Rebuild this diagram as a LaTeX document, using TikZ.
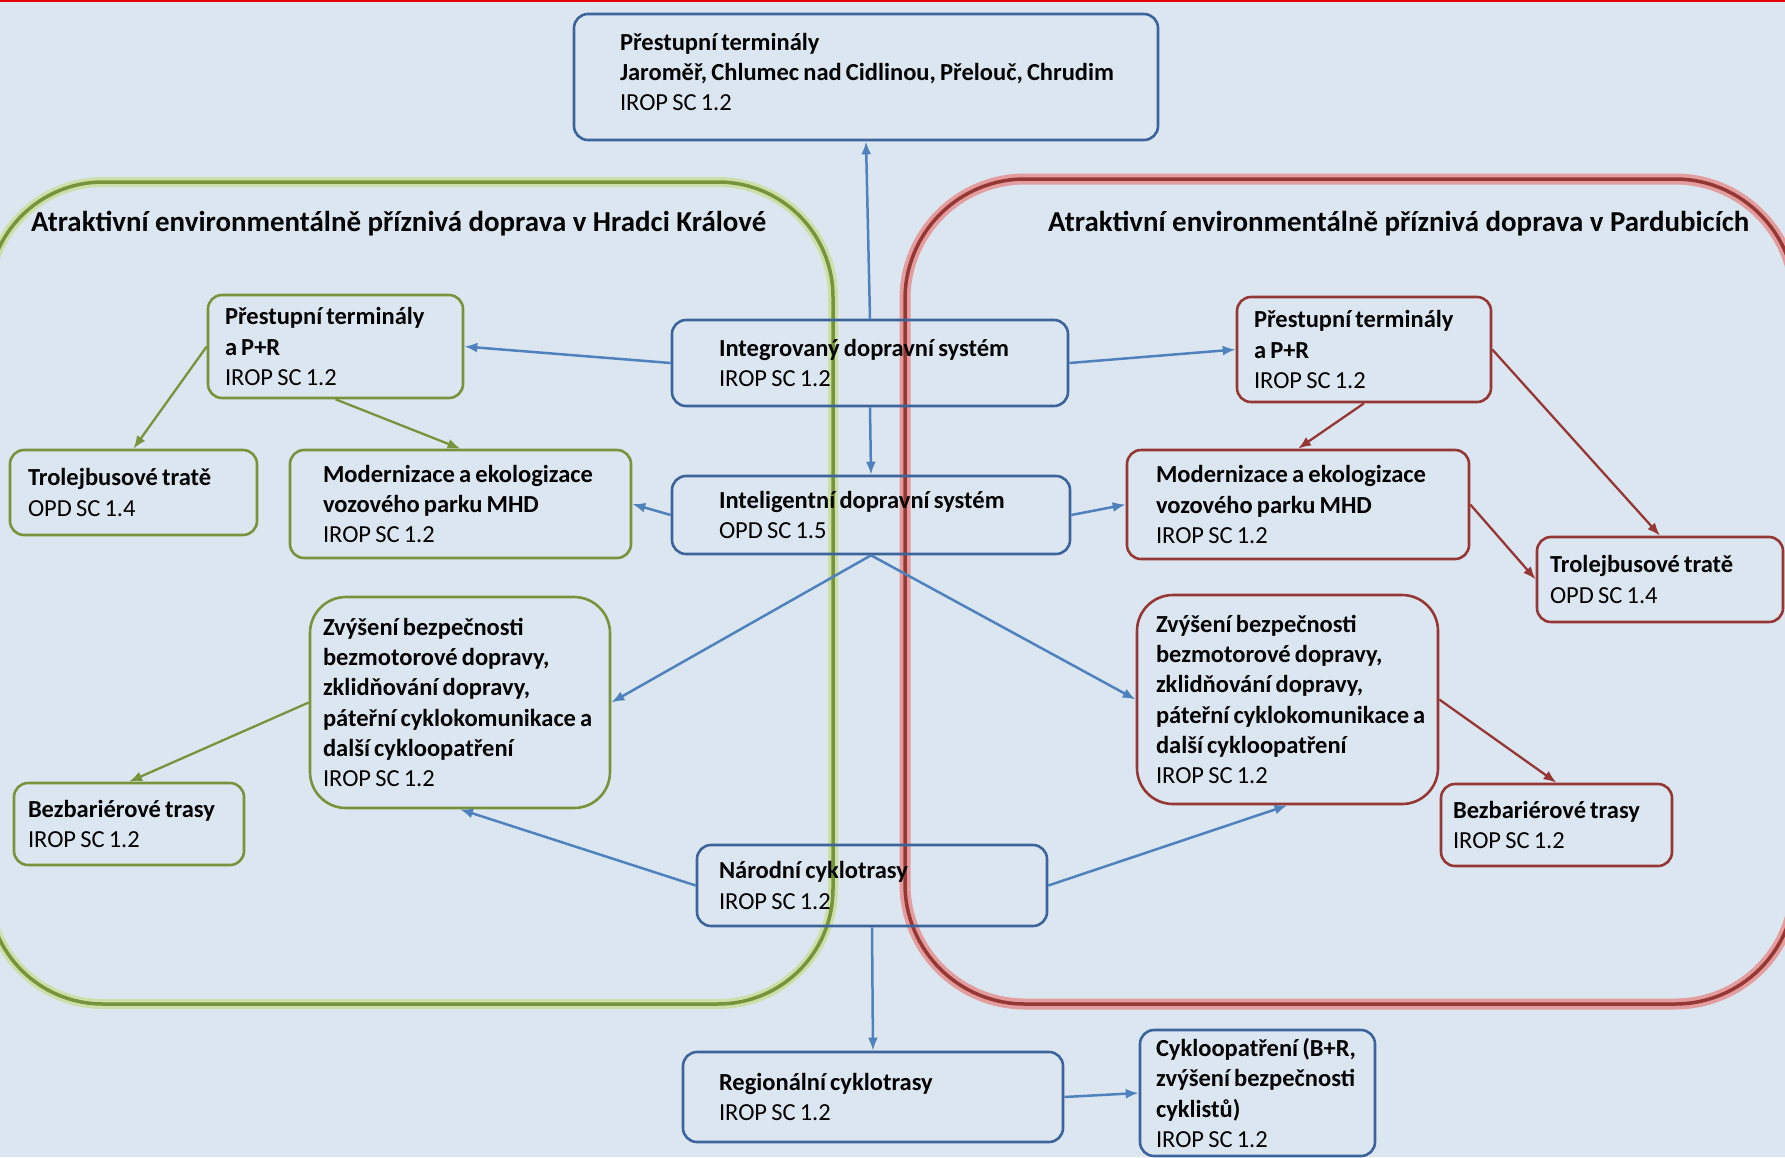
\documentclass[tikz,border=0pt]{standalone}
\usepackage{fontspec}
\setmainfont{Carlito}
\usetikzlibrary{arrows.meta}
\definecolor{bg}{RGB}{220,230,241}
\definecolor{boxblue}{RGB}{60,100,155}
\definecolor{arrblue}{RGB}{79,129,189}
\definecolor{grn}{RGB}{119,147,60}
\definecolor{grnglow}{RGB}{200,222,150}
\definecolor{rd}{RGB}{149,55,53}
\definecolor{rdglow}{RGB}{228,150,150}
\definecolor{topred}{RGB}{225,0,0}
\newcommand\myb[1]{\mbox{\bfseries\spaceskip=0.17em\relax #1}}
\newcommand\myr[1]{\mbox{\spaceskip=0.17em\relax #1}}
\tikzset{
  bx/.style={draw, line width=2.6pt, rounded corners=14pt, align=left, inner ysep=2pt,
    font=\fontsize{24.5pt}{30.3pt}\selectfont, text=black},
  bluebox/.style={bx, draw=boxblue},
  greenbox/.style={bx, draw=grn},
  redbox/.style={bx, draw=rd},
  barr/.style={draw=arrblue, line width=2.5pt, -{Latex[length=13pt,width=10pt]}},
  garr/.style={draw=grn, line width=2.3pt, -{Latex[length=13pt,width=10pt]}},
  rarr/.style={draw=rd, line width=2.3pt, -{Latex[length=13pt,width=10pt]}},
  ttl/.style={anchor=west, inner sep=0pt, font=\fontsize{28.9pt}{34pt}\selectfont\bfseries, text=black},
}
\begin{document}
\begin{tikzpicture}[x=1pt,y=-1pt]
\useasboundingbox (0,0) rectangle (1785,1157);
\fill[bg] (0,0) rectangle (1785,1157);
\begin{scope}
\clip (0,0) rectangle (1785,1157);
\draw[topred, line width=3pt] (0,0) -- (1785,0);
% regions
\draw[grnglow, line width=10pt, rounded corners=115pt, opacity=0.8] (-12,182) rectangle (833,1004);
\draw[grn, line width=3.5pt, rounded corners=115pt] (-12,182) rectangle (833,1004);
\draw[rdglow, line width=11pt, rounded corners=120pt, opacity=0.9] (905,179) rectangle (1795,1004);
\draw[rd, line width=3.5pt, rounded corners=120pt] (905,179) rectangle (1795,1004);
\end{scope}
\node[ttl] (tg) at (31,224) {Atraktivní environmentálně příznivá doprava v Hradci Králové};
\node[ttl] (tr) at (1048,224) {Atraktivní environmentálně příznivá doprava v Pardubicích};
% blue nodes
\node[bluebox, text width=492pt, inner xsep=46pt, minimum height=126pt] (top) at (866,77)
  {\myb{Přestupní terminály}\\\myb{Jaroměř, Chlumec nad Cidlinou, Přelouč, Chrudim}\\\myr{IROP SC 1.2}\rule[-10pt]{0pt}{10pt}};
\node[bluebox, text width=302pt, inner xsep=47pt, minimum height=86pt] (integ) at (870,363)
  {\myb{Integrovaný dopravní systém}\\\myr{IROP SC 1.2}};
\node[bluebox, text width=304pt, inner xsep=47pt, minimum height=78pt] (intel) at (871,515)
  {\myb{Inteligentní dopravní systém}\\\myr{OPD SC 1.5}};
\node[bluebox, text width=306pt, inner xsep=22pt, minimum height=81pt] (narod) at (872,885.5)
  {\myb{Národní cyklotrasy}\\\myr{IROP SC 1.2}};
\node[bluebox, text width=308pt, inner xsep=36pt, minimum height=90pt] (region) at (873,1097)
  {\myb{Regionální cyklotrasy}\\\myr{IROP SC 1.2}};
\node[bluebox, text width=203pt, inner xsep=16pt, minimum height=126pt] (cyklo) at (1257.5,1093)
  {\myb{Cykloopatření (B+R,}\\\myb{zvýšení bezpečnosti}\\\myb{cyklistů)}\\\myr{IROP SC 1.2}};
% green nodes
\node[greenbox, text width=221pt, inner xsep=17pt, minimum height=103pt] (gPR) at (335.5,346.5)
  {\myb{Přestupní terminály}\\\myb{a P+R}\\\myr{IROP SC 1.2}};
\node[greenbox, text width=211pt, inner xsep=18pt, minimum height=85pt] (gTrol) at (133.5,492.5)
  {\myb{Trolejbusové tratě}\\\myr{OPD SC 1.4}};
\node[greenbox, text width=275pt, inner xsep=33pt, minimum height=108pt] (gMod) at (460.5,504)
  {\myb{Modernizace a ekologizace}\\\myb{vozového parku MHD}\\\myr{IROP SC 1.2}};
\node[greenbox, rounded corners=36pt, text width=274pt, inner xsep=13pt, minimum height=211pt] (gZv) at (460,702.5)
  {\myb{Zvýšení bezpečnosti}\\\myb{bezmotorové dopravy,}\\\myb{zklidňování dopravy,}\\\myb{páteřní cyklokomunikace a}\\\myb{další cykloopatření}\\\myr{IROP SC 1.2}};
\node[greenbox, text width=202pt, inner xsep=14pt, minimum height=82pt] (gBez) at (129,824)
  {\myb{Bezbariérové trasy}\\\myr{IROP SC 1.2}};
% red nodes
\node[redbox, text width=220pt, inner xsep=17pt, minimum height=105pt] (rPR) at (1364,349.5)
  {\myb{Přestupní terminály}\\\myb{a P+R}\\\myr{IROP SC 1.2}};
\node[redbox, text width=284pt, inner xsep=29pt, minimum height=109pt] (rMod) at (1298,504.5)
  {\myb{Modernizace a ekologizace}\\\myb{vozového parku MHD}\\\myr{IROP SC 1.2}};
\node[redbox, text width=220pt, inner xsep=13pt, minimum height=85pt] (rTrol) at (1660,579.5)
  {\myb{Trolejbusové tratě}\\\myr{OPD SC 1.4}};
\node[redbox, rounded corners=36pt, text width=263pt, inner xsep=19pt, minimum height=209pt] (rZv) at (1287.5,699.5)
  {\myb{Zvýšení bezpečnosti}\\\myb{bezmotorové dopravy,}\\\myb{zklidňování dopravy,}\\\myb{páteřní cyklokomunikace a}\\\myb{další cykloopatření}\\\myr{IROP SC 1.2}};
\node[redbox, text width=207pt, inner xsep=12pt, minimum height=82pt] (rBez) at (1556.5,825)
  {\myb{Bezbariérové trasy}\\\myr{IROP SC 1.2}};
% blue arrows
\draw[barr] (integ.north) -- (top.south);
\draw[barr] (integ.west) -- (gPR.east);
\draw[barr] (integ.east) -- (rPR.west);
\draw[barr] (integ.south) -- (intel.north);
\draw[barr] (intel.west) -- (gMod.east);
\draw[barr] (intel.east) -- (rMod.west);
\draw[barr] (intel.south) -- (gZv.east);
\draw[barr] (intel.south) -- (rZv.west);
\draw[barr] (narod.west) -- (gZv.south);
\draw[barr] (narod.east) -- (rZv.south);
\draw[barr] (narod.south) -- (region.north);
\draw[barr] (region.east) -- (cyklo.west);
% green arrows
\draw[garr] (gPR.west) -- (gTrol.north);
\draw[garr] (gPR.south) -- (gMod.north);
\draw[garr] (gZv.west) -- (gBez.north);
% red arrows
\draw[rarr] (rPR.south) -- (rMod.north);
\draw[rarr] (rPR.east) -- (rTrol.north);
\draw[rarr] (rMod.east) -- (rTrol.west);
\draw[rarr] (rZv.east) -- (rBez.north);
\end{tikzpicture}
\end{document}
